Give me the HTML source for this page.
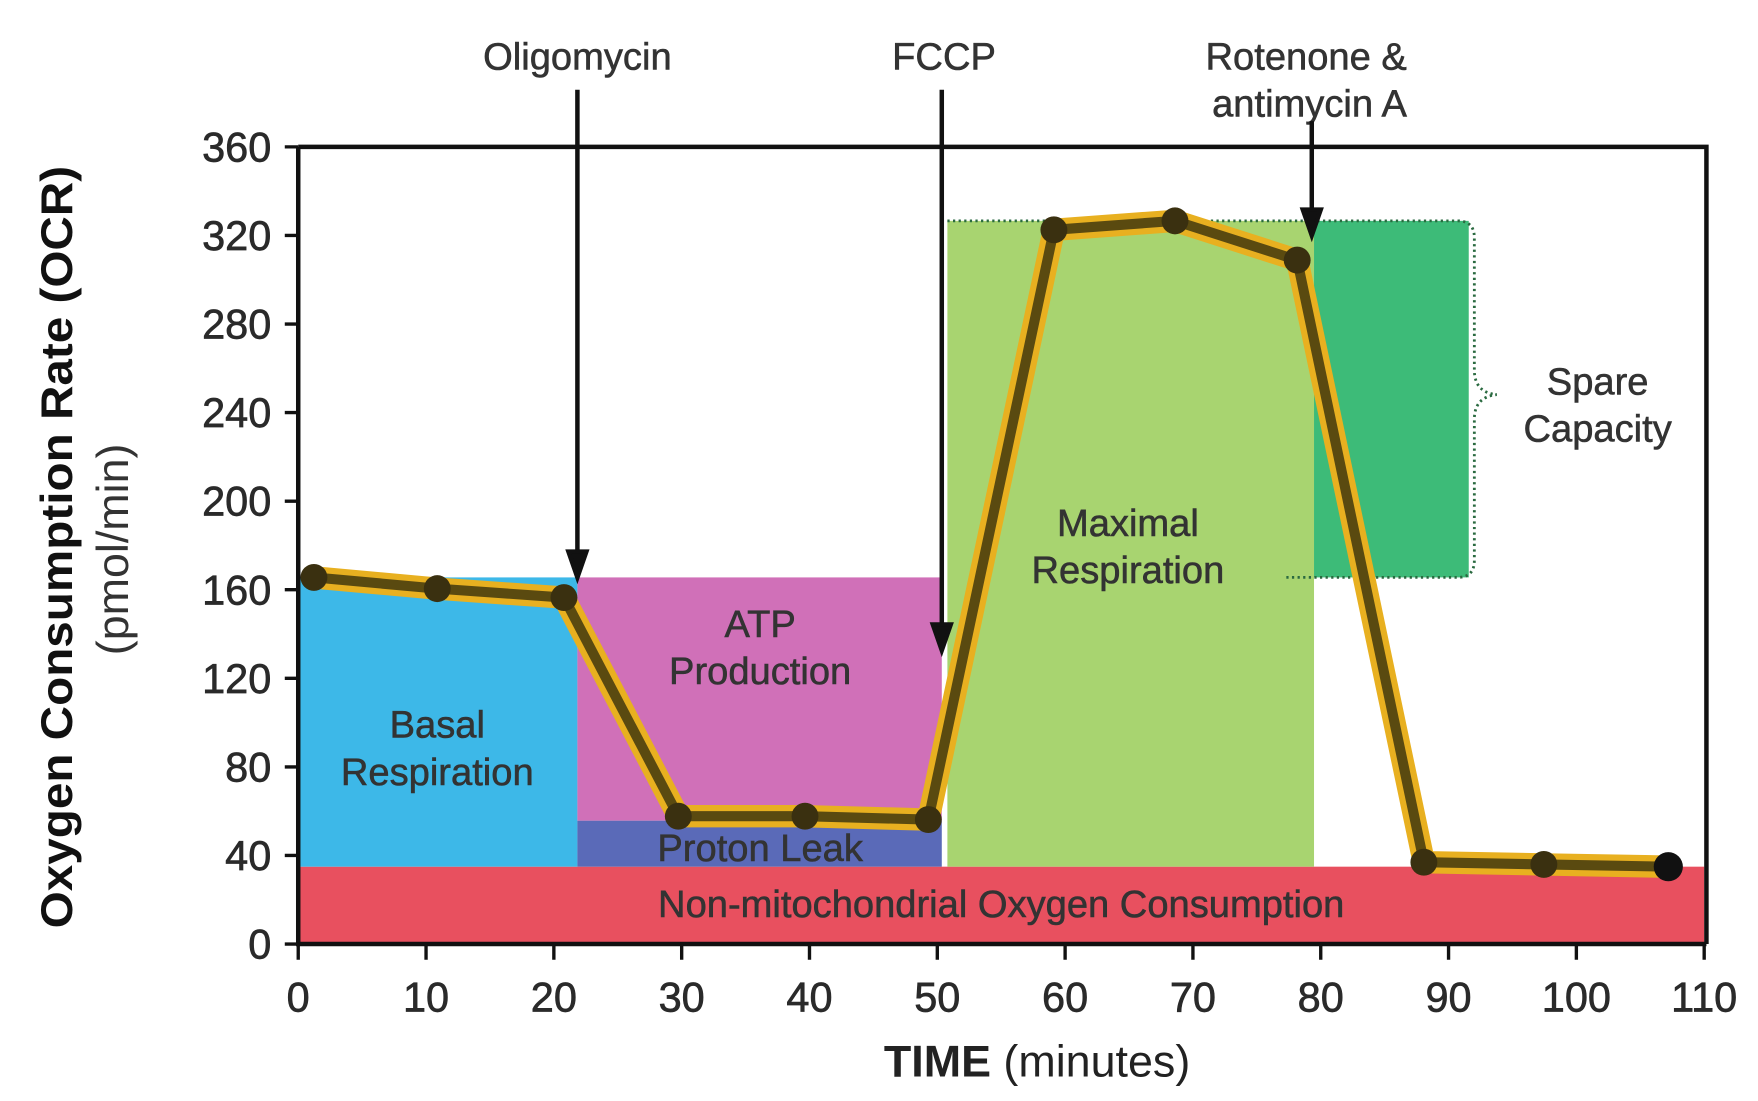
<!DOCTYPE html>
<html><head><meta charset="utf-8"><style>html,body{margin:0;padding:0;background:#fff}svg{display:block}</style></head>
<body>
<svg width="1758" height="1101" viewBox="0 0 1568 982" preserveAspectRatio="none" xmlns="http://www.w3.org/2000/svg" font-family="Liberation Sans, sans-serif">
<rect width="1568" height="982" fill="#fff"/>
<rect x="266" y="773" width="1254" height="69" fill="#e8505f"/>
<rect x="266" y="515" width="249" height="258" fill="#3db8e8"/>
<rect x="515" y="515" width="325" height="217" fill="#d070b8"/>
<rect x="515" y="732" width="325" height="41" fill="#5a6ab8"/>
<rect x="845" y="197" width="327" height="576" fill="#a8d470"/>
<rect x="1172" y="197" width="138" height="318" fill="#3dbb78"/>
<path d="M845 197 H1300 Q1315 197 1315 212 V330 Q1315 350 1335 352 Q1315 354 1315 374 V500 Q1315 515 1300 515 H1145" fill="none" stroke="#2a6a40" stroke-width="2.5" stroke-dasharray="2,3"/>
<path d="M266 131 H1522 V842" fill="none" stroke="#111" stroke-width="4"/>
<path d="M266 131 V842 H1522" fill="none" stroke="#111" stroke-width="4"/>
<g stroke="#111" stroke-width="3">
<path d="M254 131H266M254 210H266M254 289H266M254 368H266M254 447H266M254 526H266M254 605H266M254 684H266M254 763H266M254 842H266"/>
<path d="M266 842V856M380 842V856M494 842V856M608 842V856M722 842V856M836 842V856M950 842V856M1064 842V856M1178 842V856M1292 842V856M1406 842V856M1520 842V856"/>
</g>
<g font-size="37" fill="#2a2a2a" text-anchor="end" stroke="#2a2a2a" stroke-width="0.6">
<text x="242" y="144">360</text><text x="242" y="223">320</text><text x="242" y="302">280</text><text x="242" y="381">240</text><text x="242" y="460">200</text><text x="242" y="539">160</text><text x="242" y="618">120</text><text x="242" y="697">80</text><text x="242" y="776">40</text><text x="242" y="855">0</text>
</g>
<g font-size="37" fill="#2a2a2a" text-anchor="middle" stroke="#2a2a2a" stroke-width="0.6">
<text x="266" y="902">0</text><text x="380" y="902">10</text><text x="494" y="902">20</text><text x="608" y="902">30</text><text x="722" y="902">40</text><text x="836" y="902">50</text><text x="950" y="902">60</text><text x="1064" y="902">70</text><text x="1178" y="902">80</text><text x="1292" y="902">90</text><text x="1406" y="902">100</text><text x="1520" y="902">110</text>
</g>
<text x="925" y="960" font-size="40" text-anchor="middle" fill="#222"><tspan font-weight="bold">TIME</tspan> (minutes)</text>
<text transform="translate(64,488) rotate(-90)" font-size="40" font-weight="bold" text-anchor="middle" fill="#111" textLength="680" lengthAdjust="spacingAndGlyphs">Oxygen Consumption Rate (OCR)</text>
<text transform="translate(114,490) rotate(-90)" font-size="40" text-anchor="middle" fill="#333">(pmol/min)</text>
<g font-size="34" fill="#333" text-anchor="middle" stroke="#333" stroke-width="0.5">
<text x="390" y="658">Basal</text><text x="390" y="700">Respiration</text>
<text x="678" y="568">ATP</text><text x="678" y="610">Production</text>
<text x="678" y="768">Proton Leak</text>
<text x="893" y="818">Non-mitochondrial Oxygen Consumption</text>
<text x="1006" y="478">Maximal</text><text x="1006" y="520">Respiration</text>
<text x="1425" y="352">Spare</text><text x="1425" y="394">Capacity</text>
<text x="515" y="62">Oligomycin</text><text x="842" y="62">FCCP</text>
<text x="1165" y="62">Rotenone &amp;</text><text x="1168" y="104">antimycin A</text>
</g>
<g stroke="#111" stroke-width="4" fill="#111">
<line x1="515" y1="80" x2="515" y2="495"/><path d="M507 492 L515 515 L523 492Z"/>
<line x1="840" y1="80" x2="840" y2="560"/><path d="M832 557 L840 580 L848 557Z"/>
<line x1="1170" y1="108" x2="1170" y2="190"/><path d="M1162 187 L1170 210 L1178 187Z"/>
</g>
<polyline points="280,515 390,525 503,533 605,728 718,728 828,731 940,205 1048,197 1157,232 1270,769 1377,771 1488,773" fill="none" stroke="#e8b020" stroke-width="20" stroke-linejoin="round"/>
<polyline points="280,515 390,525 503,533 605,728 718,728 828,731 940,205 1048,197 1157,232 1270,769 1377,771 1488,773" fill="none" stroke="#5a4a10" stroke-width="9" stroke-linejoin="round"/>
<g fill="#3a3010">
<circle cx="280" cy="515" r="12"/><circle cx="390" cy="525" r="12"/><circle cx="503" cy="533" r="12"/><circle cx="605" cy="728" r="12"/><circle cx="718" cy="728" r="12"/><circle cx="828" cy="731" r="12"/><circle cx="940" cy="205" r="12"/><circle cx="1048" cy="197" r="12"/><circle cx="1157" cy="232" r="12"/><circle cx="1270" cy="769" r="12"/><circle cx="1377" cy="771" r="12"/><circle cx="1488" cy="773" r="13" fill="#111"/>
</g>
</svg>
</body></html>
